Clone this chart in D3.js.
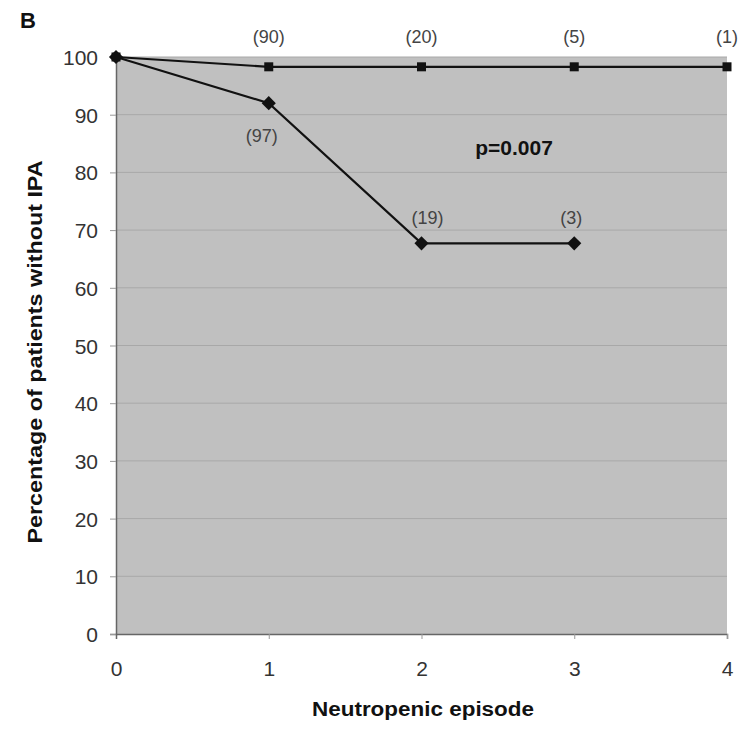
<!DOCTYPE html>
<html><head><meta charset="utf-8">
<script src="https://cdn.jsdelivr.net/npm/d3@7"></script>
<style>body{margin:0;background:#fff}</style>
</head><body>
<svg id="c" width="750" height="729"></svg>
<script>
const episodes = [0, 1, 2, 3, 4];
const upperValues = [100, 98.3, 98.3, 98.3, 98.3];
const upperLabels = ["", "(90)", "(20)", "(5)", "(1)"];
const lowerEpisodes = [0, 1, 2, 3];
const lowerValues = [100, 92, 67.7, 67.7];
const lowerLabels = ["", "(97)", "(19)", "(3)"];
const yTicks = [0, 10, 20, 30, 40, 50, 60, 70, 80, 90, 100];
const xTicks = [0, 1, 2, 3, 4];

const svg = d3.select("#c");
const L = 116, R = 727, T = 57, B = 634;
const x = d3.scaleLinear().domain([0, 4]).range([L, R]);
const y = d3.scaleLinear().domain([0, 100]).range([B, T]);
const font = "Liberation Sans, Arial, sans-serif";

svg.append("rect").attr("x", L).attr("y", T).attr("width", R - L).attr("height", B - T).attr("fill", "#c0c0c0");

// gridlines
svg.append("g").selectAll("line").data(yTicks.filter(d => d > 0)).join("line")
  .attr("x1", L).attr("x2", R).attr("y1", d => y(d)).attr("y2", d => y(d))
  .attr("stroke", "#a8a8a8").attr("stroke-width", 1);

// axes
const yAxis = svg.append("g").attr("transform", `translate(${L},0)`)
  .call(d3.axisLeft(y).tickValues(yTicks).tickSize(6).tickPadding(12).tickFormat(d3.format("d")));
const xAxis = svg.append("g").attr("transform", `translate(0,${B})`)
  .call(d3.axisBottom(x).tickValues(xTicks).tickSize(5).tickPadding(22).tickFormat(d3.format("d")));
[yAxis, xAxis].forEach(g => {
  g.select(".domain").attr("stroke", "#666").attr("stroke-width", 1.5);
  g.selectAll(".tick line").attr("stroke", "#999");
  g.selectAll("text").attr("font-family", font).attr("font-size", 21).attr("fill", "#333");
});
yAxis.selectAll("text").attr("dy", "0.36em");
xAxis.selectAll(".tick").filter(d => d === 0).select("line").attr("stroke", "none");

const line = d3.line().x(d => x(d[0])).y(d => y(d[1]));
const upper = episodes.map((e, i) => [e, upperValues[i]]);
const lower = lowerEpisodes.map((e, i) => [e, lowerValues[i]]);

svg.append("path").datum(upper).attr("d", line).attr("fill", "none").attr("stroke", "#111").attr("stroke-width", 2.2);
svg.append("path").datum(lower).attr("d", line).attr("fill", "none").attr("stroke", "#111").attr("stroke-width", 2.2);

// markers
svg.append("g").selectAll("rect").data(upper).join("rect")
  .attr("x", d => x(d[0]) - 4.5).attr("y", d => y(d[1]) - 4.5)
  .attr("width", 9).attr("height", 9).attr("fill", "#111");
svg.append("g").selectAll("path").data(lower).join("path")
  .attr("transform", d => `translate(${x(d[0])},${y(d[1])}) rotate(45)`)
  .attr("d", d3.symbol(d3.symbolSquare, 100)).attr("fill", "#111");

// annotations
svg.append("g").selectAll("text").data(upper.filter((d, i) => upperLabels[i])).join("text")
  .attr("x", d => x(d[0])).attr("y", d => y(d[1]) - 24)
  .attr("text-anchor", "middle").attr("font-family", font).attr("font-size", 18).attr("fill", "#444")
  .text(d => upperLabels[d[0]]);
svg.append("g").selectAll("text").data(lower.filter((d, i) => lowerLabels[i])).join("text")
  .attr("x", d => x(d[0]) + (d[0] === 1 ? -7 : d[0] === 2 ? 6 : -3))
  .attr("y", d => d[0] === 1 ? y(d[1]) + 39 : y(d[1]) - 19)
  .attr("text-anchor", "middle").attr("font-family", font).attr("font-size", 18).attr("fill", "#444")
  .text(d => lowerLabels[d[0]]);

svg.append("text").attr("x", 514).attr("y", 155).attr("text-anchor", "middle")
  .attr("font-family", font).attr("font-weight", "bold").attr("font-size", 21).attr("fill", "#111")
  .text("p=0.007");

svg.append("text").attr("x", 20).attr("y", 28)
  .attr("font-family", font).attr("font-weight", "bold").attr("font-size", 22).attr("fill", "#111").text("B");

svg.append("text").attr("x", 423).attr("y", 716).attr("text-anchor", "middle")
  .attr("font-family", font).attr("font-weight", "bold").attr("font-size", 20).attr("fill", "#111")
  .attr("textLength", 222).attr("lengthAdjust", "spacingAndGlyphs")
  .text("Neutropenic episode");

svg.append("text").attr("transform", `translate(42,352) rotate(-90)`).attr("text-anchor", "middle")
  .attr("font-family", font).attr("font-weight", "bold").attr("font-size", 21).attr("fill", "#111")
  .attr("textLength", 383).attr("lengthAdjust", "spacingAndGlyphs")
  .text("Percentage of patients without IPA");
</script>
</body></html>
